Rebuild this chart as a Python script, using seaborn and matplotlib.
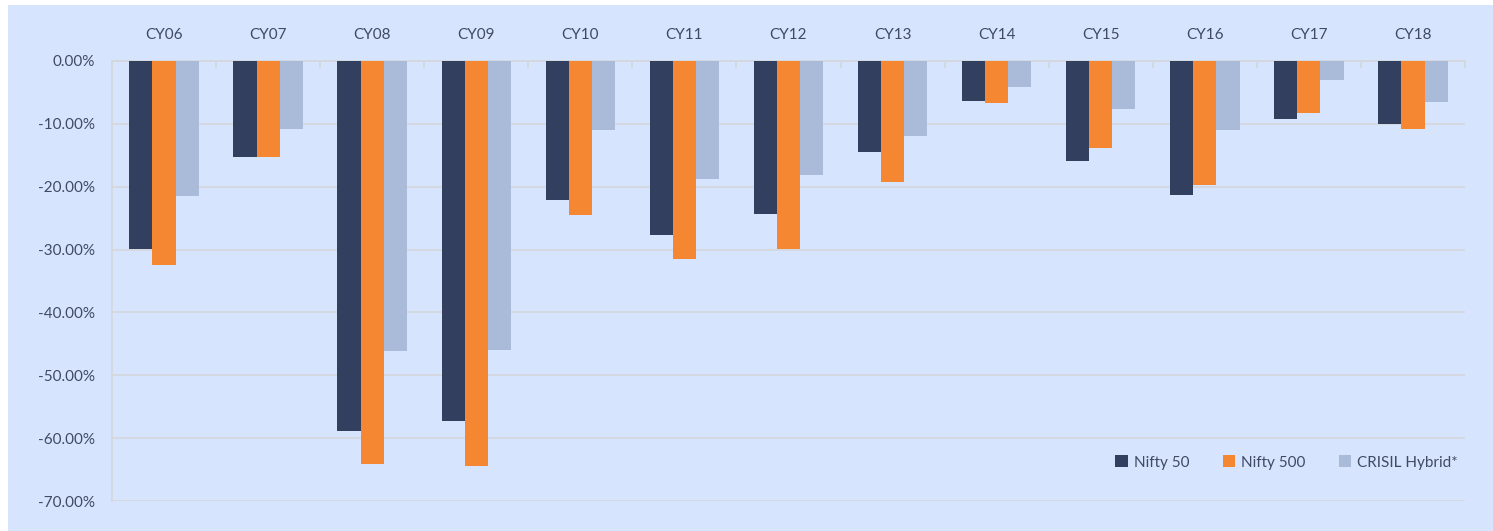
import pandas as pd
import matplotlib.pyplot as plt
import matplotlib.ticker as mtick
import seaborn as sns

# Calendar years and drawdowns per index
years = ['CY06', 'CY07', 'CY08', 'CY09', 'CY10', 'CY11', 'CY12',
         'CY13', 'CY14', 'CY15', 'CY16', 'CY17', 'CY18']
nifty_50 = [-29.9, -15.3, -58.8, -57.2, -22.1, -27.7, -24.4,
            -14.5, -6.4, -15.9, -21.3, -9.2, -10.1]
nifty_500 = [-32.5, -15.3, -64.1, -64.5, -24.5, -31.5, -29.9,
             -19.2, -6.7, -13.8, -19.8, -8.3, -10.8]
crisil_hybrid = [-21.5, -10.8, -46.2, -45.9, -10.9, -18.8, -18.2,
                 -12.0, -4.2, -7.6, -10.9, -3.0, -6.6]
series_names = ['Nifty 50', 'Nifty 500', 'CRISIL Hybrid*']
colors = ['#333F5F', '#F58733', '#AABAD9']

df = pd.DataFrame({'year': years * 3,
                   'index': sum([[n] * len(years) for n in series_names], []),
                   'value': [v / 100 for v in nifty_50 + nifty_500 + crisil_hybrid]})

sns.set_style('white')
plt.rcParams['font.family'] = ['Lato', 'DejaVu Sans']
plt.rcParams['axes.unicode_minus'] = False
text_color = '#404A66'
bg = '#D6E4FD'
grid_color = '#D3D6DC'

fig = plt.figure(figsize=(14.93, 5.31), dpi=100, facecolor='white')
# blue chart area (small white margin top and left like the source)
fig.patches.append(plt.Rectangle((8 / 1493, 0), 1, 1 - 5 / 531, transform=fig.transFigure,
                                 facecolor=bg, edgecolor='none', zorder=-10))
ax = fig.add_axes([112 / 1493, 1 - 501 / 531, (1465 - 112) / 1493, (501 - 61) / 531])
ax.set_facecolor(bg)

sns.barplot(data=df, x='year', y='value', hue='index', palette=colors,
            width=0.667, gap=0, linewidth=0, saturation=1, ax=ax, zorder=3)

ax.set_ylim(-0.70, 0)
ax.set_xlim(-0.5, len(years) - 0.5)
ax.yaxis.set_major_locator(mtick.MultipleLocator(0.10))
ax.yaxis.set_major_formatter(mtick.PercentFormatter(xmax=1, decimals=2))
ax.yaxis.grid(True, color=grid_color, linewidth=1.2, zorder=0)
ax.set_axisbelow(True)

# category labels on top, tick marks at the category boundaries
ax.xaxis.tick_top()
ax.tick_params(axis='x', which='major', length=0, pad=14, labelsize=11, labelcolor=text_color)
ax.set_xticks([i + 0.5 for i in range(-1, len(years))], minor=True)
ax.tick_params(axis='x', which='minor', direction='in', length=5, color=grid_color, width=1.2)
ax.tick_params(axis='y', length=6, color=grid_color, width=1.2, labelsize=11,
               labelcolor=text_color, pad=6)

for side in ['bottom', 'right']:
    ax.spines[side].set_visible(False)
for side in ['top', 'left']:
    ax.spines[side].set_color(grid_color)
    ax.spines[side].set_linewidth(1.2)

ax.set_xlabel('')
ax.set_ylabel('')
ax.legend(title=None, ncol=3, frameon=False, loc='lower right',
          bbox_to_anchor=(1.005, 0.04), fontsize=11, labelcolor=text_color,
          handlelength=0.8, handleheight=0.8, handletextpad=0.4, columnspacing=2.2)

fig.savefig('out.png', dpi=100, facecolor='white')
